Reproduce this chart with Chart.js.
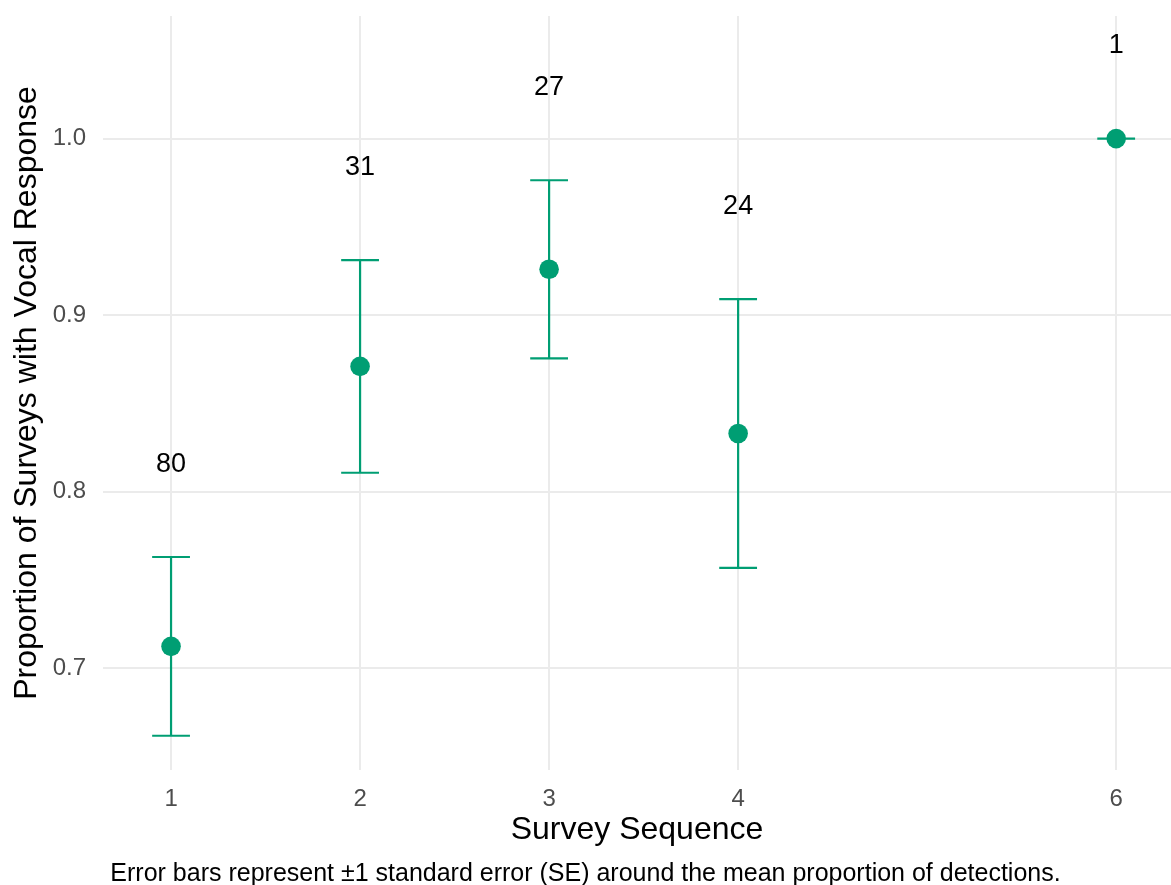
<!DOCTYPE html>
<html>
<head>
<meta charset="utf-8">
<title>Vocal response by survey sequence</title>
<script src="https://cdn.jsdelivr.net/npm/chart.js@4.4.1/dist/chart.umd.min.js"></script>
<style>
  html, body { margin: 0; padding: 0; background: #ffffff; }
</style>
</head>
<body>
<canvas id="surveyChart" width="1171" height="885"></canvas>
<script>
// Survey data
const surveySequence = [1, 2, 3, 4, 6];
const vocalProportion = [0.7125, 0.871, 0.926, 0.833, 1.0];
const standardError = [0.0506, 0.0602, 0.0504, 0.0761, 0];
const surveyCount = [80, 31, 27, 24, 1];

// Axis ticks
const xTickValues = [1, 2, 3, 4, 6];
const yTickValues = [0.7, 0.8, 0.9, 1.0];

// Styling
const pointColor = '#009E73';
const gridColor = '#ebebeb';
const fontFamily = '"Liberation Sans", Arial, Helvetica, sans-serif';
const capHalfWidth = 0.1;   // error bar cap, in x units
const labelGap = 0.05;      // count label sits this far above the bar top

// Draw the +-1 SE error bars under the points
const errorBarPlugin = {
    id: 'errorBars',
    beforeDatasetsDraw(chart) {
        const { ctx, scales: { x, y } } = chart;
        ctx.save();
        ctx.strokeStyle = pointColor;
        ctx.lineWidth = 2.2;
        surveySequence.forEach((seq, i) => {
            const px = x.getPixelForValue(seq);
            const left = x.getPixelForValue(seq - capHalfWidth);
            const right = x.getPixelForValue(seq + capHalfWidth);
            const top = y.getPixelForValue(vocalProportion[i] + standardError[i]);
            const bottom = y.getPixelForValue(vocalProportion[i] - standardError[i]);
            ctx.beginPath();
            ctx.moveTo(px, top);
            ctx.lineTo(px, bottom);
            ctx.moveTo(left, top);
            ctx.lineTo(right, top);
            ctx.moveTo(left, bottom);
            ctx.lineTo(right, bottom);
            ctx.stroke();
        });
        ctx.restore();
    }
};

// Write the number of surveys above each bar
const countLabelPlugin = {
    id: 'countLabels',
    afterDatasetsDraw(chart) {
        const { ctx, scales: { x, y } } = chart;
        ctx.save();
        ctx.fillStyle = '#000000';
        ctx.font = '27px ' + fontFamily;
        ctx.textAlign = 'center';
        ctx.textBaseline = 'alphabetic';
        surveySequence.forEach((seq, i) => {
            const px = x.getPixelForValue(seq);
            const py = y.getPixelForValue(vocalProportion[i] + standardError[i] + labelGap);
            ctx.fillText(String(surveyCount[i]), px, py + 3);
        });
        ctx.restore();
    }
};

const ctx = document.getElementById('surveyChart').getContext('2d');

new Chart(ctx, {
    type: 'scatter',
    data: {
        datasets: [{
            label: 'Proportion',
            data: surveySequence.map((seq, i) => ({ x: seq, y: vocalProportion[i] })),
            backgroundColor: pointColor,
            borderColor: pointColor,
            borderWidth: 0,
            pointRadius: 9.8,
            pointHoverRadius: 9.8
        }]
    },
    options: {
        responsive: false,
        animation: false,
        devicePixelRatio: 1,
        layout: {
            autoPadding: false,
            padding: { top: 16, right: 0, bottom: 0, left: 0 }
        },
        plugins: {
            legend: { display: false },
            tooltip: { enabled: false },
            title: {
                display: true,
                position: 'bottom',
                text: 'Error bars represent \u00b11 standard error (SE) around the mean proportion of detections.',
                color: '#000000',
                font: { family: fontFamily, size: 25, weight: 'normal', lineHeight: 0.9 },
                padding: 0
            }
        },
        scales: {
            x: {
                type: 'linear',
                min: 0.64,
                max: 6.29,
                afterBuildTicks: (scale) => {
                    scale.ticks = xTickValues.map(v => ({ value: v }));
                },
                afterFit: (scale) => {
                    scale.height = 92.5;
                    scale.paddingLeft = 0;
                    scale.paddingRight = 0;
                },
                grid: { color: gridColor, lineWidth: 2, drawTicks: false },
                border: { display: false },
                ticks: {
                    color: '#4d4d4d',
                    font: { family: fontFamily, size: 24 },
                    padding: 15,
                    callback: (value) => String(value)
                },
                title: {
                    display: true,
                    text: 'Survey Sequence',
                    color: '#000000',
                    font: { family: fontFamily, size: 32 },
                    padding: { top: 0, bottom: 13 }
                }
            },
            y: {
                min: 0.6425,
                max: 1.0694,
                afterBuildTicks: (scale) => {
                    scale.ticks = yTickValues.map(v => ({ value: v }));
                },
                afterFit: (scale) => {
                    scale.width = 103;
                    scale.paddingTop = 0;
                    scale.paddingBottom = 0;
                },
                grid: { color: gridColor, lineWidth: 2, drawTicks: false },
                border: { display: false },
                ticks: {
                    color: '#4d4d4d',
                    font: { family: fontFamily, size: 24 },
                    padding: 17,
                    callback: (value) => value.toFixed(1)
                },
                title: {
                    display: true,
                    text: 'Proportion of Surveys with Vocal Response',
                    color: '#000000',
                    font: { family: fontFamily, size: 32 },
                    padding: { top: 8, bottom: 0 }
                }
            }
        }
    },
    plugins: [errorBarPlugin, countLabelPlugin]
});
</script>
</body>
</html>
